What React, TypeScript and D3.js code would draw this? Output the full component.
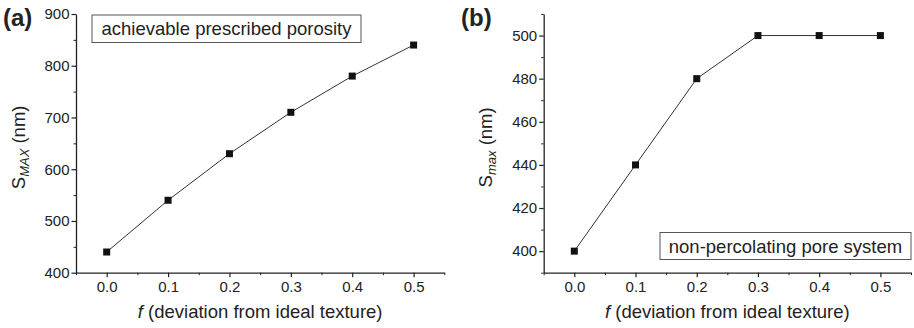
import React, { useEffect, useRef } from 'react';
import * as d3 from 'd3';

// deviation from ideal texture
const fValues = [0.0, 0.1, 0.2, 0.3, 0.4, 0.5];
// panel (a): achievable prescribed porosity
const smaxA = [440, 540, 630, 710, 780, 840];
// panel (b): non-percolating pore system
const smaxB = [400, 440, 480, 500, 500, 500];

const xTickLabels = ['0.0', '0.1', '0.2', '0.3', '0.4', '0.5'];
const yTicksA = [400, 500, 600, 700, 800, 900];
const yTicksB = [400, 420, 440, 460, 480, 500];

const FONT = 'Liberation Sans, Arial, sans-serif';
const INK = '#222';

const drawPanel = (svg, opts) => {
  const { left, right, top, bottom, yDomain, yTicks, yMinor, values, tag, sub, legend } = opts;

  const x = d3.scaleLinear().domain([-0.05, 0.55]).range([left, right]);
  const y = d3.scaleLinear().domain(yDomain).range([bottom, top]);

  const g = svg.append('g');

  // minor ticks first so majors sit on top
  const xMinor = d3.range(-0.05, 0.5501, 0.05).filter(v => Math.abs(Math.round(v * 10) - v * 10) > 0.01);
  g.append('g')
    .attr('transform', `translate(0,${bottom})`)
    .call(d3.axisBottom(x).tickValues(xMinor).tickSize(2.5).tickFormat(() => ''))
    .call(a => a.select('.domain').remove())
    .selectAll('line').attr('stroke', INK);

  g.append('g')
    .attr('transform', `translate(${left},0)`)
    .call(d3.axisLeft(y).tickValues(yMinor).tickSize(2.5).tickFormat(() => ''))
    .call(a => a.select('.domain').remove())
    .selectAll('line').attr('stroke', INK);

  const xAxis = g.append('g')
    .attr('transform', `translate(0,${bottom})`)
    .call(d3.axisBottom(x).tickValues(fValues).tickSize(4.5).tickSizeOuter(0).tickPadding(4)
      .tickFormat((d, i) => xTickLabels[i]));
  xAxis.select('.domain').attr('stroke', INK).attr('stroke-width', 1.3);
  xAxis.selectAll('line').attr('stroke', INK).attr('stroke-width', 1.2);
  xAxis.selectAll('text').attr('font-family', FONT).attr('font-size', 15).attr('fill', INK);

  const yAxis = g.append('g')
    .attr('transform', `translate(${left},0)`)
    .call(d3.axisLeft(y).tickValues(yTicks).tickSize(4.5).tickSizeOuter(0).tickPadding(2));
  yAxis.select('.domain').attr('stroke', INK).attr('stroke-width', 1.3);
  yAxis.selectAll('line').attr('stroke', INK).attr('stroke-width', 1.2);
  yAxis.selectAll('text').attr('font-family', FONT).attr('font-size', 15).attr('fill', INK);

  const line = d3.line().x((d, i) => x(fValues[i])).y(d => y(d));
  g.append('path')
    .datum(values)
    .attr('d', line)
    .attr('fill', 'none')
    .attr('stroke', '#333')
    .attr('stroke-width', 1);

  g.selectAll('rect.pt')
    .data(values)
    .join('rect')
    .attr('class', 'pt')
    .attr('x', (d, i) => x(fValues[i]) - 3.5)
    .attr('y', d => y(d) - 3.5)
    .attr('width', 7)
    .attr('height', 7)
    .attr('fill', '#111');

  // panel tag
  g.append('text')
    .attr('x', opts.tagX)
    .attr('y', 26)
    .attr('font-family', FONT)
    .attr('font-weight', 'bold')
    .attr('font-size', 24)
    .attr('fill', INK)
    .text(tag);

  // y label
  const yl = g.append('text')
    .attr('transform', `translate(${opts.yLabelX},${(top + bottom) / 2 + 4}) rotate(-90)`)
    .attr('text-anchor', 'middle')
    .attr('font-family', FONT)
    .attr('font-size', 18.5)
    .attr('fill', INK);
  yl.append('tspan').text('S');
  yl.append('tspan').attr('font-size', 13).attr('font-style', 'italic').attr('dy', 4).text(sub);
  yl.append('tspan').attr('dy', -4).text(' (nm)');

  // x label
  const xl = g.append('text')
    .attr('x', (x(0) + x(0.5)) / 2)
    .attr('y', 318)
    .attr('text-anchor', 'middle')
    .attr('font-family', FONT)
    .attr('font-size', 18.5)
    .attr('fill', INK);
  xl.append('tspan').attr('font-style', 'italic').text('f');
  xl.append('tspan').text(' (deviation from ideal texture)');

  // legend box
  const lb = legend;
  g.append('rect')
    .attr('x', lb.x).attr('y', lb.y).attr('width', lb.w).attr('height', lb.h)
    .attr('fill', 'white').attr('stroke', '#555').attr('stroke-width', 1);
  g.append('text')
    .attr('x', lb.x + lb.w / 2)
    .attr('y', lb.y + lb.h / 2 + 6.5)
    .attr('text-anchor', 'middle')
    .attr('font-family', FONT)
    .attr('font-size', 18.5)
    .attr('fill', INK)
    .text(lb.text);
};

export default function App() {
  const ref = useRef(null);

  useEffect(() => {
    const svg = d3.select(ref.current);
    svg.selectAll('*').remove();

    drawPanel(svg, {
      left: 76, right: 444.3, top: 14, bottom: 272.7,
      yDomain: [400, 900], yTicks: yTicksA, yMinor: [450, 550, 650, 750, 850],
      values: smaxA, tag: '(a)', tagX: 3, sub: 'MAX', yLabelX: 25,
      legend: { x: 92, y: 15, w: 269, h: 27.5, text: 'achievable prescribed porosity' },
    });

    drawPanel(svg, {
      left: 543.7, right: 911, top: 14, bottom: 272.7,
      yDomain: [390, 510], yTicks: yTicksB, yMinor: [390, 410, 430, 450, 470, 490, 510],
      values: smaxB, tag: '(b)', tagX: 461, sub: 'max', yLabelX: 492,
      legend: { x: 660, y: 232.5, w: 251, h: 27, text: 'non-percolating pore system' },
    });
  }, []);

  return (
    <svg
      ref={ref}
      width={914}
      height={328}
      style={{ position: 'absolute', left: 0, top: 0, background: 'white' }}
    />
  );
}
